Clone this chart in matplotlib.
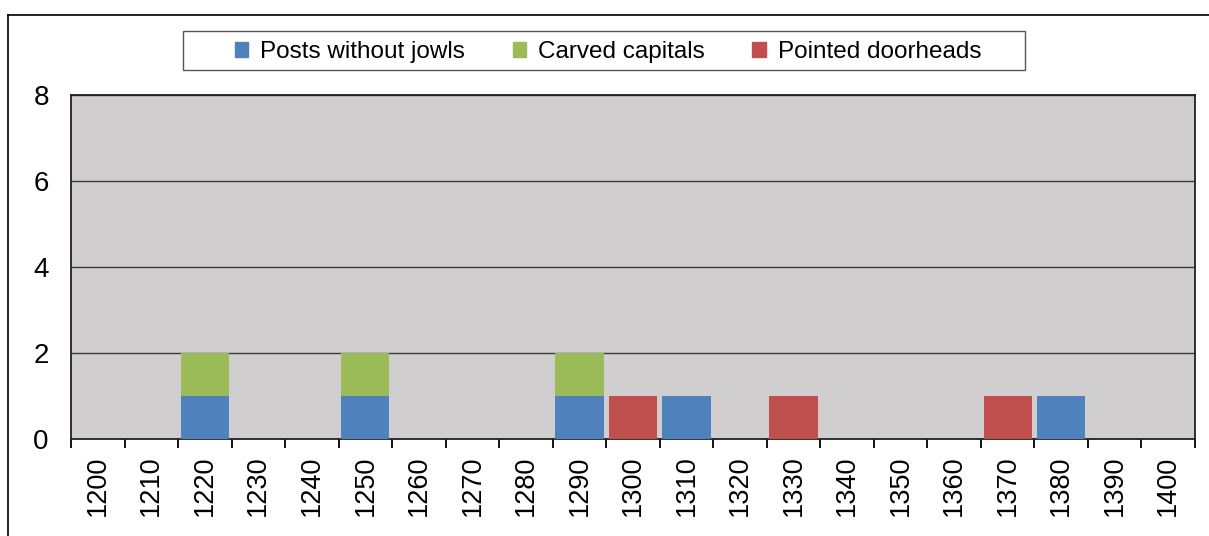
import matplotlib
matplotlib.use("Agg")
import matplotlib.pyplot as plt
from matplotlib.patches import Patch, Rectangle
from matplotlib.lines import Line2D
import numpy as np

plt.rcParams['font.family'] = ['Liberation Sans', 'DejaVu Sans']

decades = [str(y) for y in range(1200, 1401, 10)]
posts = [0, 0, 1, 0, 0, 1, 0, 0, 0, 1, 0, 1, 0, 0, 0, 0, 0, 0, 1, 0, 0]
capitals = [0, 0, 1, 0, 0, 1, 0, 0, 0, 1, 0, 0, 0, 0, 0, 0, 0, 0, 0, 0, 0]
doorheads = [0, 0, 0, 0, 0, 0, 0, 0, 0, 0, 1, 0, 0, 1, 0, 0, 0, 1, 0, 0, 0]

c_blue = '#4F81BD'
c_green = '#9BBB59'
c_red = '#C0504D'

W, H = 1209, 536
fig = plt.figure(figsize=(W / 100, H / 100), dpi=100)
ax = fig.add_axes([71 / W, 1 - 439 / H, (1195 - 71) / W, (439 - 95) / H])
ax.set_facecolor('#D0CECF')

x = np.arange(len(decades))
posts = np.array(posts)
capitals = np.array(capitals)
doorheads = np.array(doorheads)
ax.bar(x, posts, width=0.9, color=c_blue, zorder=3)
ax.bar(x, capitals, width=0.9, bottom=posts, color=c_green, zorder=3)
ax.bar(x, doorheads, width=0.9, bottom=posts + capitals, color=c_red, zorder=3)

ax.set_xlim(-0.5, len(decades) - 0.5)
ax.set_ylim(0, 8)
ax.set_yticks([0, 2, 4, 6, 8])
ax.yaxis.grid(True, color='#3a3a3a', linewidth=1.0, zorder=1)
ax.set_axisbelow(True)
ax.tick_params(axis='y', length=0, pad=16, labelsize=20)

# tick marks sit on category boundaries, labels at the centres
ax.set_xticks(np.arange(-0.5, len(decades)), labels=[])
ax.set_xticks(x, labels=decades, minor=True, rotation=90)
ax.tick_params(axis='x', which='major', length=6.5, width=1.3, direction='out')
ax.tick_params(axis='x', which='minor', length=0, pad=12, labelsize=19.5)

for s in ax.spines.values():
    s.set_linewidth(1.3)
    s.set_color('#222222')

# outer chart frame
fig.add_artist(Line2D([8 / W, 8 / W], [0, 1 - 15 / H], color='black', lw=1.2))
fig.add_artist(Line2D([8 / W, 1], [1 - 15 / H, 1 - 15 / H], color='black', lw=1.2))

# legend box
fig.add_artist(Rectangle((183 / W, 1 - 70 / H), (1025 - 183) / W, 39 / H,
                         transform=fig.transFigure, facecolor='white',
                         edgecolor='#555555', lw=1.0))
handles = [Patch(color=c_blue), Patch(color=c_green), Patch(color=c_red)]
fig.legend(handles, ['Posts without jowls', 'Carved capitals', 'Pointed doorheads'],
           loc='center', bbox_to_anchor=(608 / W, 1 - 52 / H), ncol=3,
           frameon=False, fontsize=17.5, handlelength=0.55, handleheight=0.55,
           handletextpad=0.5, columnspacing=1.95)

fig.savefig('out.png', dpi=100)
